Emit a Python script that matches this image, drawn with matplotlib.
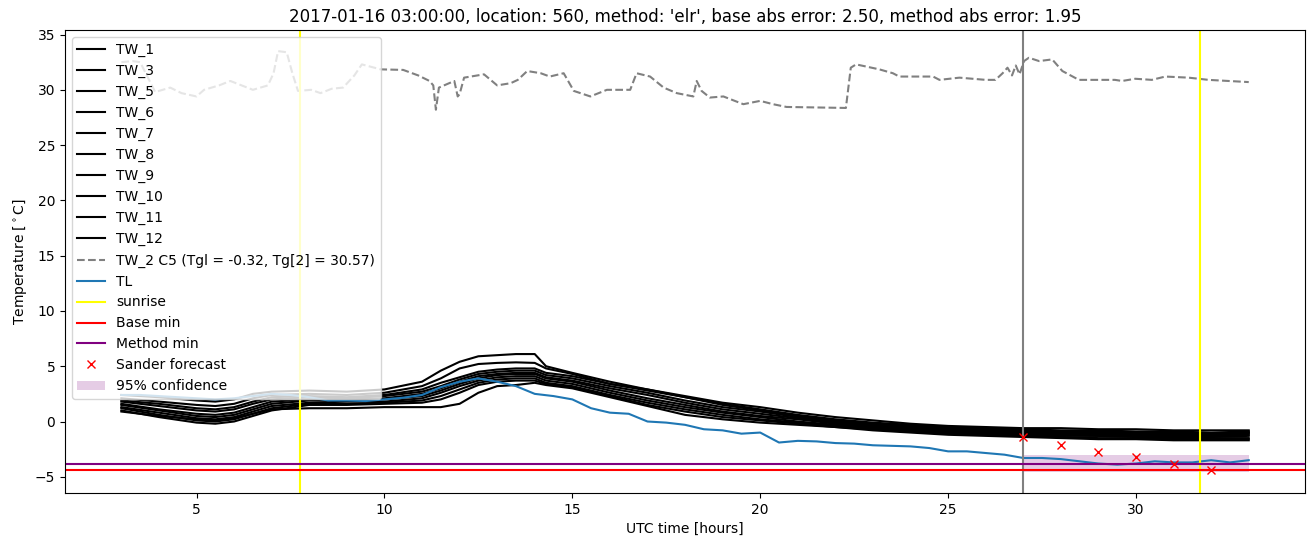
import matplotlib
matplotlib.use("Agg")
import matplotlib.pyplot as plt

# readings of the TW_* sensors, 03 UTC day 1 -> 09 UTC day 2 (denser around dip and peak)
hours = [3, 4, 5, 5.5, 6, 6.5, 7, 8, 9, 10, 11, 11.5, 12, 12.5, 13, 13.5, 14, 14.3,
         15, 16, 17, 18, 19, 20, 21, 22, 23, 24, 25, 26, 27, 28, 29, 30, 31, 32, 33]

tw_labels = ["TW_1", "TW_3", "TW_5", "TW_6", "TW_7", "TW_8", "TW_9", "TW_10", "TW_11", "TW_12"]
tw_1 = [2.4, 2.2, 1.9, 1.8, 2.0, 2.5, 2.7, 2.8, 2.7, 2.9, 3.6, 4.6, 5.4, 5.9, 6.0, 6.1, 6.1, 5.0,
        4.4, 3.6, 2.9, 2.3, 1.7, 1.3, 0.8, 0.4, 0.1, -0.2, -0.4, -0.5, -0.6, -0.6, -0.7, -0.7, -0.8, -0.8, -0.8]
tw_3 = [2.1, 1.8, 1.5, 1.4, 1.6, 2.1, 2.4, 2.5, 2.4, 2.6, 3.2, 3.9, 4.8, 5.2, 5.3, 5.35, 5.3, 4.8,
        4.3, 3.4, 2.8, 2.2, 1.6, 1.1, 0.6, 0.2, -0.1, -0.3, -0.5, -0.6, -0.7, -0.8, -0.8, -0.9, -0.9, -1.0, -0.9]
tw_5 = [1.8, 1.4, 1.0, 0.9, 1.1, 1.6, 2.0, 2.2, 2.1, 2.3, 2.7, 3.2, 3.8, 4.3, 4.5, 4.6, 4.6, 4.2,
        3.9, 3.2, 2.6, 1.9, 1.3, 0.9, 0.4, 0.0, -0.3, -0.5, -0.7, -0.8, -0.9, -1.0, -1.0, -1.0, -1.1, -1.1, -1.0]
tw_6 = [1.6, 1.1, 0.7, 0.6, 0.8, 1.3, 1.8, 2.0, 2.0, 2.1, 2.5, 3.0, 3.6, 4.1, 4.3, 4.4, 4.4, 4.0,
        3.7, 3.0, 2.4, 1.7, 1.1, 0.7, 0.3, -0.1, -0.4, -0.6, -0.8, -0.9, -1.0, -1.0, -1.1, -1.1, -1.2, -1.2, -1.1]
tw_7 = [1.5, 1.0, 0.5, 0.4, 0.6, 1.1, 1.6, 1.9, 1.9, 2.0, 2.3, 2.8, 3.4, 3.9, 4.2, 4.3, 4.3, 3.9,
        3.6, 2.8, 2.1, 1.5, 0.9, 0.5, 0.2, -0.2, -0.5, -0.7, -0.9, -1.0, -1.1, -1.1, -1.2, -1.2, -1.3, -1.3, -1.2]
tw_8 = [1.3, 0.8, 0.3, 0.2, 0.4, 0.9, 1.4, 1.7, 1.8, 1.8, 2.1, 2.6, 3.2, 3.7, 4.0, 4.1, 4.1, 3.7,
        3.4, 2.6, 1.9, 1.3, 0.8, 0.4, 0.0, -0.3, -0.6, -0.8, -1.0, -1.1, -1.2, -1.3, -1.3, -1.4, -1.5, -1.5, -1.5]
tw_9 = [1.2, 0.6, 0.1, 0.0, 0.2, 0.7, 1.2, 1.6, 1.6, 1.7, 1.9, 2.3, 2.9, 3.5, 3.8, 3.9, 3.9, 3.5,
        3.2, 2.4, 1.7, 1.1, 0.6, 0.2, -0.1, -0.4, -0.7, -0.9, -1.1, -1.2, -1.3, -1.4, -1.5, -1.5, -1.6, -1.6, -1.6]
tw_10 = [1.0, 0.4, -0.1, -0.2, 0.0, 0.5, 1.0, 1.5, 1.5, 1.6, 1.7, 2.0, 2.6, 3.3, 3.6, 3.7, 3.7, 3.4,
         3.1, 2.3, 1.5, 0.9, 0.4, 0.1, -0.2, -0.5, -0.8, -1.0, -1.2, -1.3, -1.4, -1.5, -1.6, -1.6, -1.7, -1.7, -1.7]
tw_11 = [0.9, 0.5, 0.2, 0.1, 0.3, 0.7, 1.1, 1.2, 1.2, 1.3, 1.3, 1.3, 1.6, 2.6, 3.2, 3.3, 3.5, 3.3,
         3.0, 2.2, 1.4, 0.6, 0.2, -0.1, -0.3, -0.5, -0.7, -0.9, -1.0, -1.1, -1.2, -1.2, -1.3, -1.3, -1.4, -1.4, -1.3]
tw_12 = [1.9, 1.6, 1.2, 1.1, 1.3, 1.8, 2.2, 2.3, 2.2, 2.4, 2.9, 3.5, 4.0, 4.5, 4.7, 4.8, 4.8, 4.4,
         4.1, 3.4, 2.9, 2.2, 1.5, 1.0, 0.5, 0.1, -0.2, -0.4, -0.6, -0.7, -0.8, -0.9, -0.9, -1.0, -1.0, -1.1, -1.0]
tw_series = [tw_1, tw_3, tw_5, tw_6, tw_7, tw_8, tw_9, tw_10, tw_11, tw_12]

tw2_label = "TW_2 C5 (Tgl = -0.32, Tg[2] = 30.57)"
tw2_hours = [3.0, 3.3, 3.5, 3.9, 4.3, 4.6, 5.0, 5.2, 5.6, 5.9, 6.2, 6.5, 6.9, 7.05, 7.17,
             7.4, 7.55, 7.7, 8.05, 8.3, 8.6, 8.9, 9.2, 9.4, 9.9, 10.5, 10.9, 11.2, 11.3,
             11.37, 11.45, 11.86, 11.95, 12.0, 12.12, 12.65, 13.0, 13.36, 13.55, 13.8,
             14.16, 14.4, 14.77, 15.04, 15.48, 15.92, 16.18, 16.54, 16.71, 17.07, 17.43,
             17.78, 18.22, 18.31, 18.44, 18.66, 19.02, 19.55, 20.0, 20.34, 20.7, 22.28,
             22.41, 22.55, 23.17, 23.53, 23.7, 24.6, 24.77, 25.3, 26.0, 26.26, 26.45,
             26.58, 26.7, 26.8, 26.9, 27.02, 27.15, 27.42, 27.77, 28.04, 28.48, 29.44,
             29.63, 29.98, 30.42, 30.78, 31.4, 31.93, 32.46, 33.0]
tw2_temp = [32.5, 32.6, 32.5, 29.8, 30.2, 29.7, 29.4, 30.0, 30.4, 30.8, 30.4, 30.0, 30.4,
            31.5, 33.5, 33.4, 31.5, 29.9, 30.0, 29.7, 30.1, 30.2, 31.3, 32.3, 31.85, 31.8,
            31.3, 30.8, 30.4, 28.2, 30.2, 30.8, 29.4, 29.6, 31.1, 31.4, 30.4, 30.6, 30.9,
            31.7, 31.5, 31.2, 31.5, 29.9, 29.4, 30.0, 30.0, 30.0, 31.5, 31.2, 30.2, 29.7,
            29.4, 30.8, 29.9, 29.3, 29.4, 28.7, 29.0, 28.7, 28.45, 28.36, 32.0, 32.3,
            31.85, 31.5, 31.2, 31.2, 30.9, 31.1, 30.9, 30.9, 31.5, 32.0, 31.3, 32.2, 31.4,
            32.6, 32.9, 32.6, 32.75, 31.7, 30.9, 30.9, 30.8, 31.0, 30.9, 31.2, 31.1, 30.9,
            30.8, 30.7]

# air temperature TL, every half hour
tl_hours = [3.0, 3.5, 4.0, 4.5, 5.0, 5.5, 6.0, 6.5, 7.0, 7.5, 8.0, 8.5, 9.0, 9.5, 10.0,
            10.5, 11.0, 11.5, 12.0, 12.5, 13.0, 13.5, 14.0, 14.5, 15.0, 15.5, 16.0, 16.5,
            17.0, 17.5, 18.0, 18.5, 19.0, 19.5, 20.0, 20.5, 21.0, 21.5, 22.0, 22.5, 23.0,
            23.5, 24.0, 24.5, 25.0, 25.5, 26.0, 26.5, 27.0, 27.5, 28.0, 28.5, 29.0, 29.5,
            30.0, 30.5, 31.0, 31.5, 32.0, 32.5, 33.0]
tl_temp = [2.4, 2.4, 2.3, 2.2, 2.1, 2.0, 2.1, 2.3, 2.5, 2.4, 2.2, 1.9, 1.9, 1.85, 2.0,
           2.15, 2.4, 3.1, 3.6, 3.9, 3.6, 3.2, 2.5, 2.3, 2.0, 1.2, 0.8, 0.7, 0.0, -0.1,
           -0.3, -0.7, -0.8, -1.1, -1.0, -1.9, -1.75, -1.8, -1.95, -2.0, -2.15, -2.2,
           -2.25, -2.4, -2.7, -2.7, -2.85, -3.0, -3.3, -3.3, -3.4, -3.6, -3.8, -3.9, -3.8,
           -3.6, -3.7, -3.7, -3.5, -3.7, -3.5]

sunrise_hours = [7.75, 31.7]
forecast_start = 27
base_min = -4.36
method_min = -3.82

sander_hours = [27, 28, 29, 30, 31, 32]
sander_temp = [-1.36, -2.09, -2.73, -3.18, -3.82, -4.36]

conf_hours = [27, 33]
conf_low = [-4.55, -4.55]
conf_high = [-3.0, -3.0]

title = ("2017-01-16 03:00:00, location: 560, method: 'elr', "
         "base abs error: 2.50, method abs error: 1.95")

fig, ax = plt.subplots(figsize=(13.13, 5.47), dpi=100)
fig.subplots_adjust(left=0.0495, right=0.994, top=0.945, bottom=0.099)

for lab, vals in zip(tw_labels, tw_series):
    ax.plot(hours, vals, color="black", label=lab)
ax.plot(tw2_hours, tw2_temp, color="gray", ls="--", label=tw2_label)
ax.plot(tl_hours, tl_temp, color="C0", label="TL")

ax.axvline(sunrise_hours[0], color="yellow", label="sunrise")
ax.axvline(sunrise_hours[1], color="yellow")
ax.axvline(forecast_start, color="gray")
ax.axhline(base_min, color="red", label="Base min")
ax.axhline(method_min, color="purple", label="Method min")
ax.plot(sander_hours, sander_temp, "x", color="red", label="Sander forecast")
ax.fill_between(conf_hours, conf_low, conf_high, color="purple", alpha=0.2,
                linewidth=0, label="95% confidence")

ax.set_title(title)
ax.set_xlabel("UTC time [hours]")
ax.set_ylabel(r"Temperature [$^\circ$C]")
ax.legend(loc="upper left")

fig.savefig("out.png", dpi=100)
